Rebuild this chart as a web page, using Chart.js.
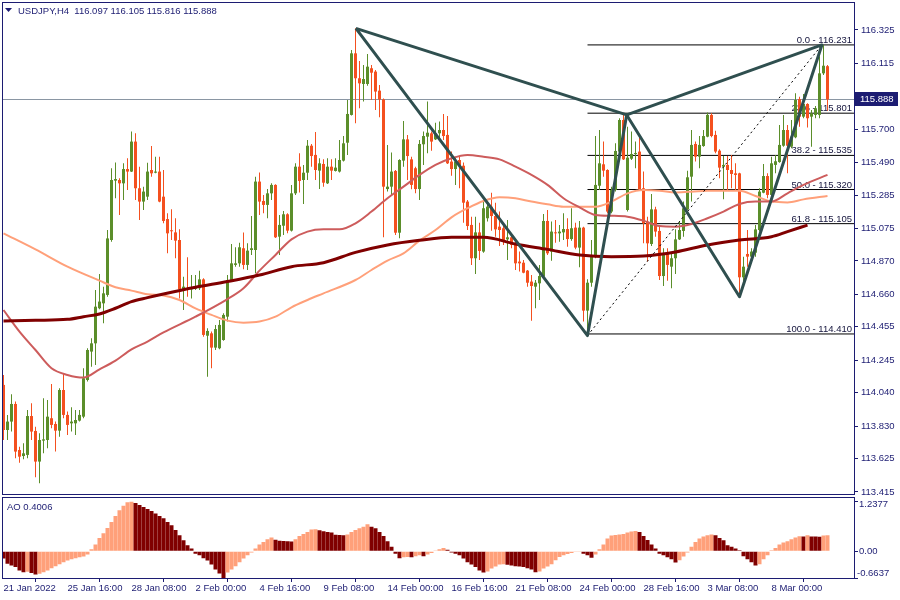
<!DOCTYPE html>
<html>
<head>
<meta charset="utf-8">
<title>USDJPY,H4</title>
<script src="https://cdn.jsdelivr.net/npm/chart.js@4.4.1/dist/chart.umd.min.js"></script>
<style>
    body { margin: 0; background: #ffffff; }
    #wrap { position: relative; width: 900px; height: 600px; }
    #main { position: absolute; left: 0; top: 0; }
    #ao { position: absolute; left: 0; top: 497px; }
</style>
</head>
<body>
<div id="wrap">
    <canvas id="main" width="900" height="497"></canvas>
    <canvas id="ao" width="900" height="103"></canvas>
</div>
<script>
// ---- data ----
const symbolName = "USDJPY,H4";

const openP = [
    114.089, 113.805, 113.858, 113.969, 113.679, 113.641, 113.648, 113.893, 113.799, 113.606,
    113.738, 113.742, 113.879, 113.843, 113.801, 114.057, 113.900, 113.847, 113.847, 113.864,
    113.889, 114.120, 114.299, 114.351, 114.572, 114.603, 114.656, 115.002, 115.376, 115.380,
    115.359, 115.449, 115.433, 115.622, 115.328, 115.244, 115.275, 115.443, 115.426, 115.433,
    115.275, 115.134, 115.061, 115.050, 115.002, 114.687, 114.698, 114.691, 114.695, 114.698,
    114.754, 114.399, 114.414, 114.324, 114.320, 114.372, 114.519, 114.744, 114.845, 114.855,
    114.950, 114.845, 114.939, 114.939, 115.370, 115.248, 115.223, 115.296, 115.349, 115.023,
    115.092, 115.164, 115.061, 115.296, 115.464, 115.380, 115.426, 115.596, 115.538, 115.439,
    115.481, 115.359, 115.464, 115.437, 115.433, 115.502, 115.615, 115.790, 116.178, 116.021,
    115.985, 115.985, 116.084, 116.063, 115.943, 115.888, 115.323, 115.338, 115.437, 115.048,
    115.502, 115.636, 115.510, 115.454, 115.323, 115.605, 115.653, 115.674, 115.636, 115.674,
    115.695, 115.664, 115.496, 115.449, 115.506, 115.470, 115.244, 115.097, 114.887, 115.050,
    114.929, 115.139, 115.212, 115.153, 115.086, 115.076, 115.006, 115.019, 114.981, 114.866,
    114.859, 114.809, 114.740, 114.708, 114.729, 114.771, 115.122, 114.929, 115.050, 115.044,
    115.050, 115.071, 115.008, 115.080, 114.954, 115.080, 114.557, 114.733, 114.897, 115.344,
    115.479, 115.443, 115.181, 115.317, 115.559, 115.758, 115.191, 115.514, 115.544, 115.559,
    115.328, 115.118, 114.977, 115.195, 115.059, 114.775, 114.914, 114.834, 114.887, 115.006,
    115.059, 115.195, 115.401, 115.607, 115.527, 115.594, 115.653, 115.790, 115.664, 115.565,
    115.464, 115.475, 115.443, 115.422, 115.422, 114.767, 114.914, 114.897, 114.922, 115.065,
    115.300, 115.405, 115.286, 115.475, 115.493, 115.596, 115.695, 115.590, 115.649, 115.890,
    115.779, 115.859, 115.779, 115.790, 115.790, 116.052, 116.097
];

const highP = [
    114.152, 113.900, 114.030, 113.984, 113.700, 113.721, 113.931, 113.973, 113.826, 113.784,
    114.005, 113.994, 114.095, 113.858, 114.068, 114.162, 113.921, 113.948, 113.931, 113.931,
    114.194, 114.320, 114.383, 114.687, 114.788, 114.708, 115.065, 115.454, 115.491, 115.391,
    115.485, 115.517, 115.685, 115.674, 115.464, 115.338, 115.489, 115.594, 115.527, 115.527,
    115.443, 115.170, 115.195, 115.139, 115.069, 114.771, 114.893, 114.782, 114.782, 114.809,
    114.761, 114.446, 114.425, 114.467, 114.498, 114.540, 114.782, 114.977, 114.956, 114.985,
    115.050, 114.981, 115.153, 115.401, 115.428, 115.286, 115.323, 115.359, 115.353, 115.160,
    115.185, 115.170, 115.349, 115.485, 115.548, 115.475, 115.632, 115.607, 115.682, 115.517,
    115.510, 115.517, 115.510, 115.517, 115.632, 115.657, 115.884, 116.199, 116.336, 116.130,
    116.105, 116.174, 116.105, 116.073, 115.979, 115.894, 115.601, 115.554, 115.443, 115.510,
    115.752, 115.664, 115.527, 115.464, 115.632, 115.685, 115.874, 115.685, 115.741, 115.748,
    115.796, 115.783, 115.559, 115.527, 115.527, 115.491, 115.254, 115.149, 115.149, 115.111,
    115.254, 115.237, 115.300, 115.237, 115.181, 115.103, 115.128, 115.044, 115.002, 114.929,
    114.876, 114.813, 114.782, 114.750, 114.845, 115.166, 115.191, 115.118, 115.128, 115.097,
    115.170, 115.139, 115.202, 115.111, 115.122, 115.086, 114.754, 115.002, 115.657, 115.695,
    115.622, 115.447, 115.338, 115.611, 115.769, 115.790, 115.716, 115.685, 115.622, 115.664,
    115.433, 115.149, 115.292, 115.212, 115.086, 114.950, 114.950, 114.918, 115.069, 115.118,
    115.244, 115.439, 115.695, 115.622, 115.657, 115.695, 115.806, 115.800, 115.691, 115.573,
    115.531, 115.531, 115.538, 115.485, 115.426, 114.897, 115.065, 114.950, 115.097, 115.328,
    115.481, 115.422, 115.527, 115.538, 115.727, 115.790, 115.727, 115.758, 115.926, 115.905,
    115.922, 115.863, 115.821, 115.846, 116.160, 116.231, 116.105
];

const lowP = [
    113.742, 113.742, 113.795, 113.627, 113.599, 113.620, 113.627, 113.742, 113.507, 113.469,
    113.658, 113.690, 113.816, 113.669, 113.763, 113.879, 113.774, 113.795, 113.774, 113.858,
    113.879, 114.110, 114.204, 114.214, 114.565, 114.477, 114.645, 114.991, 115.265, 115.160,
    115.254, 115.317, 115.430, 115.254, 115.128, 115.191, 115.254, 115.401, 115.422, 115.240,
    115.107, 114.918, 115.002, 114.887, 114.634, 114.561, 114.645, 114.634, 114.687, 114.687,
    114.393, 114.141, 114.194, 114.309, 114.313, 114.368, 114.488, 114.740, 114.834, 114.834,
    114.817, 114.813, 114.908, 114.792, 115.160, 115.170, 115.139, 115.254, 115.015, 114.908,
    115.034, 115.044, 115.055, 115.286, 115.302, 115.229, 115.380, 115.464, 115.380, 115.323,
    115.338, 115.355, 115.380, 115.433, 115.428, 115.496, 115.538, 115.786, 115.737, 115.832,
    115.874, 115.974, 115.884, 115.821, 115.775, 115.019, 115.307, 115.286, 115.034, 115.013,
    115.464, 115.380, 115.321, 115.296, 115.254, 115.475, 115.548, 115.565, 115.632, 115.632,
    115.632, 115.481, 115.407, 115.349, 115.328, 115.111, 115.065, 114.845, 114.788, 114.876,
    114.922, 115.118, 115.061, 115.023, 114.964, 114.971, 114.876, 114.950, 114.813, 114.803,
    114.792, 114.708, 114.494, 114.572, 114.624, 114.765, 114.908, 114.872, 114.985, 114.991,
    115.002, 114.960, 114.998, 114.943, 114.830, 114.488, 114.410, 114.708, 114.887, 115.317,
    115.401, 115.170, 115.170, 115.307, 115.548, 115.506, 115.181, 115.506, 115.454, 115.317,
    114.981, 114.866, 114.964, 115.023, 114.750, 114.712, 114.746, 114.698, 114.788, 115.002,
    115.023, 115.191, 115.244, 115.496, 115.454, 115.590, 115.649, 115.649, 115.548, 115.391,
    115.258, 115.317, 115.328, 115.317, 114.649, 114.708, 114.834, 114.855, 114.897, 115.055,
    115.296, 115.265, 115.275, 115.422, 115.489, 115.590, 115.422, 115.580, 115.643, 115.716,
    115.769, 115.710, 115.590, 115.769, 115.769, 116.042, 115.816
];

const closeP = [
    113.805, 113.858, 113.969, 113.669, 113.637, 113.658, 113.893, 113.795, 113.606, 113.742,
    113.746, 113.889, 113.837, 113.801, 114.057, 113.900, 113.837, 113.858, 113.868, 113.900,
    114.131, 114.309, 114.351, 114.582, 114.614, 114.666, 115.012, 115.380, 115.386, 115.359,
    115.449, 115.433, 115.622, 115.328, 115.244, 115.307, 115.433, 115.422, 115.433, 115.244,
    115.122, 115.044, 115.057, 114.998, 114.691, 114.708, 114.687, 114.704, 114.708, 114.754,
    114.404, 114.429, 114.324, 114.441, 114.467, 114.530, 114.750, 114.855, 114.855, 114.956,
    114.845, 114.935, 114.950, 115.370, 115.244, 115.223, 115.296, 115.349, 115.019, 115.097,
    115.164, 115.061, 115.296, 115.464, 115.374, 115.426, 115.596, 115.531, 115.443, 115.485,
    115.363, 115.464, 115.439, 115.458, 115.506, 115.611, 115.796, 116.178, 116.021, 115.989,
    116.016, 116.094, 116.056, 115.937, 115.888, 115.338, 115.338, 115.433, 115.048, 115.506,
    115.636, 115.531, 115.349, 115.323, 115.607, 115.657, 115.678, 115.622, 115.674, 115.695,
    115.657, 115.485, 115.449, 115.496, 115.470, 115.237, 115.090, 114.887, 115.050, 114.933,
    115.202, 115.212, 115.153, 115.069, 115.065, 114.998, 115.019, 114.971, 114.855, 114.855,
    114.796, 114.733, 114.712, 114.733, 114.775, 115.122, 114.918, 115.055, 115.044, 115.055,
    115.071, 115.008, 115.076, 114.954, 115.080, 114.557, 114.733, 114.901, 115.349, 115.485,
    115.439, 115.181, 115.317, 115.563, 115.758, 115.510, 115.521, 115.544, 115.548, 115.321,
    115.107, 114.981, 115.195, 115.055, 114.775, 114.914, 114.845, 114.887, 115.006, 115.065,
    115.202, 115.397, 115.601, 115.527, 115.601, 115.657, 115.790, 115.657, 115.559, 115.458,
    115.475, 115.443, 115.418, 115.412, 114.767, 114.834, 114.897, 114.929, 115.069, 115.307,
    115.405, 115.286, 115.485, 115.498, 115.601, 115.695, 115.596, 115.653, 115.884, 115.779,
    115.859, 115.769, 115.800, 115.832, 116.052, 116.100, 115.888
];

// moving averages, read every few bars (bar index, price)
const maSalmonIdx = [0, 8, 16, 24, 28, 32, 36, 40, 44, 48, 52, 56, 60, 64, 68, 72, 76, 80, 88, 92, 96, 100, 104, 108, 112, 116, 120, 124, 128, 132, 136, 140, 144, 148, 152, 156, 160, 164, 168, 172, 176, 180, 184, 188, 192, 196, 200, 206];
const maSalmon = [115.044, 114.943, 114.834, 114.746, 114.704, 114.683, 114.660, 114.653, 114.624, 114.571, 114.530, 114.494, 114.481, 114.488, 114.519, 114.578, 114.624, 114.666, 114.750, 114.813, 114.872, 114.918, 114.998, 115.065, 115.145, 115.202, 115.248, 115.271, 115.265, 115.244, 115.227, 115.212, 115.212, 115.212, 115.244, 115.296, 115.317, 115.313, 115.302, 115.306, 115.313, 115.313, 115.313, 115.279, 115.244, 115.239, 115.258, 115.279];

const maRedIdx = [0, 4, 8, 12, 16, 20, 24, 28, 32, 36, 40, 48, 56, 60, 64, 68, 72, 76, 80, 84, 88, 92, 96, 100, 104, 108, 112, 116, 120, 124, 128, 132, 136, 140, 144, 148, 152, 156, 160, 164, 168, 172, 176, 180, 184, 188, 192, 196, 200, 206];
const maRed = [114.561, 114.425, 114.309, 114.194, 114.152, 114.135, 114.187, 114.242, 114.313, 114.362, 114.420, 114.519, 114.630, 114.698, 114.809, 114.908, 115.006, 115.055, 115.069, 115.069, 115.107, 115.181, 115.265, 115.338, 115.412, 115.475, 115.517, 115.538, 115.527, 115.510, 115.464, 115.412, 115.349, 115.265, 115.208, 115.160, 115.155, 115.149, 115.124, 115.090, 115.086, 115.103, 115.139, 115.181, 115.229, 115.244, 115.244, 115.296, 115.349, 115.412];

const maMaroonIdx = [0, 8, 16, 20, 24, 28, 32, 36, 40, 48, 56, 64, 72, 80, 88, 96, 104, 112, 120, 128, 136, 144, 152, 160, 168, 176, 184, 192, 196, 201];
const maMaroon = [114.492, 114.496, 114.502, 114.519, 114.536, 114.572, 114.614, 114.639, 114.662, 114.704, 114.740, 114.781, 114.834, 114.859, 114.924, 114.971, 115.000, 115.019, 115.019, 114.977, 114.943, 114.908, 114.897, 114.901, 114.926, 114.971, 115.002, 115.023, 115.055, 115.096];

// harmonic pattern points X, A, B, C, D
const patternIdx = [88.1, 146, 155.8, 184, 204.6];
const patternPrice = [116.335, 114.400, 115.790, 114.645, 116.231];

// fibonacci retracement
const fibStartIdx = 146;
const fibLevels = [0.0, 23.6, 38.2, 50.0, 61.8, 100.0];
const fibPrices = [116.231, 115.801, 115.535, 115.320, 115.105, 114.410];

// price axis
const priceTicks = [113.415, 113.625, 113.830, 114.040, 114.245, 114.455, 114.660, 114.870, 115.075, 115.285, 115.490, 115.700, 115.905, 116.115, 116.325];
const priceMin = 113.4018;
const priceMax = 116.4951;

// Awesome Oscillator
const aoVals = [
    -0.18, -0.31, -0.35, -0.39, -0.475, -0.52, -0.51, -0.54, -0.575, -0.56,
    -0.52, -0.475, -0.42, -0.37, -0.325, -0.27, -0.23, -0.20, -0.17, -0.15,
    -0.13, -0.08, 0.05, 0.17, 0.33, 0.45, 0.58, 0.73, 0.88, 1.02,
    1.13, 1.22, 1.2377, 1.20, 1.15, 1.10, 1.05, 1.00, 0.94, 0.88,
    0.82, 0.73, 0.65, 0.53, 0.40, 0.275, 0.15, 0.067, -0.06, -0.10,
    -0.17, -0.23, -0.33, -0.45, -0.55, -0.6637, -0.53, -0.45, -0.37, -0.27,
    -0.18, -0.10, -0.03, 0.067, 0.17, 0.23, 0.30, 0.34, 0.29, 0.26,
    0.255, 0.25, 0.245, 0.30, 0.38, 0.43, 0.48, 0.54, 0.55, 0.525,
    0.50, 0.48, 0.47, 0.41, 0.405, 0.40, 0.42, 0.48, 0.53, 0.57,
    0.61, 0.67, 0.61, 0.57, 0.48, 0.38, 0.25, 0.11, -0.06, -0.17,
    -0.15, -0.14, -0.145, -0.12, -0.10, -0.12, -0.08, -0.04, 0.01, 0.05,
    0.08, 0.04, -0.03, -0.06, -0.10, -0.18, -0.27, -0.33, -0.39, -0.475,
    -0.53, -0.50, -0.43, -0.375, -0.33, -0.325, -0.335, -0.35, -0.37, -0.375,
    -0.39, -0.42, -0.45, -0.52, -0.50, -0.43, -0.375, -0.32, -0.225, -0.14,
    -0.10, -0.07, -0.04, -0.017, -0.008, -0.06, -0.10, -0.16, -0.08, 0.05,
    0.17, 0.32, 0.395, 0.405, 0.42, 0.43, 0.47, 0.495, 0.505, 0.48,
    0.38, 0.28, 0.17, 0.067, -0.06, -0.10, -0.15, -0.20, -0.28, -0.225,
    -0.13, -0.03, 0.11, 0.23, 0.32, 0.37, 0.40, 0.42, 0.40, 0.33,
    0.275, 0.15, 0.11, 0.067, 0.025, -0.12, -0.20, -0.27, -0.35, -0.325,
    -0.20, -0.10, 0.025, 0.08, 0.17, 0.22, 0.25, 0.30, 0.34, 0.375,
    0.37, 0.40, 0.37, 0.365, 0.36, 0.395, 0.4006
];
const aoMin = -0.6637;
const aoMax = 1.2377;
const aoTicks = [aoMin, 0, aoMax];
const aoTickLabels = ["-0.6637", "0.00", "1.2377"];

// time axis
const timeTickIdx = [0, 16, 32, 48, 64, 80, 96, 112, 128, 144, 160, 176, 192];
const timeTickLabels = ["21 Jan 2022", "25 Jan 16:00", "28 Jan 08:00", "2 Feb 00:00", "4 Feb 16:00", "9 Feb 08:00", "14 Feb 00:00", "16 Feb 16:00", "21 Feb 08:00", "24 Feb 00:00", "28 Feb 16:00", "3 Mar 08:00", "8 Mar 00:00"];

// bar index range shown (4 px per bar)
const xMin = -0.375;
const xMax = 212.625;

// ---- look ----
const FONT = "'Liberation Sans', Arial, sans-serif";
const FSIZE = 9.5;
const NAVY = "#1c1c72";
const BULL = "#5b8e2a";
const BEAR = "#f4501f";
const AO_UP = "#ffa07a";
const AO_DOWN = "#800000";

Chart.defaults.font.family = FONT;
Chart.defaults.font.size = FSIZE;

const idx = openP.map((v, i) => i);
const candleColor = idx.map(i => closeP[i] >= openP[i] ? BULL : BEAR);

// keep the plot area fixed: no extra room for half labels
function fixedWidth(w) {
    return s => {
        s.width = w;
        s.paddingTop = 0;
        s.paddingBottom = 0;
    };
}

function maLine(xs, ys, color, width, order) {
    return {
        type: "line",
        data: xs.map((x, k) => ({ x: x, y: ys[k] })),
        borderColor: color,
        borderWidth: width,
        pointRadius: 0,
        cubicInterpolationMode: "monotone",
        order: order
    };
}

function patternLine(keys) {
    return {
        type: "line",
        data: keys.map(k => ({ x: patternIdx[k], y: patternPrice[k] })),
        borderColor: "#2f4f4f",
        borderWidth: 3,
        borderJoinStyle: "round",
        pointRadius: 0,
        tension: 0,
        order: 1
    };
}

const fibSets = fibPrices.map(p => ({
    type: "line",
    data: [{ x: fibStartIdx, y: p }, { x: xMax, y: p }],
    borderColor: "#000000",
    borderWidth: 1,
    pointRadius: 0,
    order: 20
}));

const mainDecor = {
    id: "mainDecor",
    beforeDatasetsDraw(chart) {
        const ctx = chart.ctx;
        const a = chart.chartArea;
        const y = chart.scales.y;
        const last = closeP[closeP.length - 1];
        const py = Math.round(y.getPixelForValue(last)) + 0.5;

        ctx.save();
        ctx.strokeStyle = "#8a96a3";
        ctx.lineWidth = 1;
        ctx.beginPath();
        ctx.moveTo(a.left, py);
        ctx.lineTo(a.right, py);
        ctx.stroke();

        ctx.font = FSIZE + "px " + FONT;
        ctx.fillStyle = "#14143c";
        ctx.textAlign = "right";
        ctx.textBaseline = "alphabetic";
        fibLevels.forEach((lv, k) => {
            const ty = y.getPixelForValue(fibPrices[k]) - 2;
            ctx.fillText(lv.toFixed(1) + " - " + fibPrices[k].toFixed(3), a.right - 2, ty);
        });
        ctx.restore();
    },
    afterDraw(chart) {
        const ctx = chart.ctx;
        const y = chart.scales.y;
        const n = closeP.length - 1;

        ctx.save();
        ctx.strokeStyle = NAVY;
        ctx.lineWidth = 1;
        ctx.strokeRect(2.5, 2.5, 852, 492);

        // title
        ctx.fillStyle = NAVY;
        ctx.beginPath();
        ctx.moveTo(5, 8);
        ctx.lineTo(12, 8);
        ctx.lineTo(8.5, 12);
        ctx.closePath();
        ctx.fill();
        ctx.font = FSIZE + "px " + FONT;
        ctx.textAlign = "left";
        ctx.textBaseline = "middle";
        const ohlc = [openP[n], highP[n], lowP[n], closeP[n]].map(v => v.toFixed(3)).join(" ");
        ctx.fillText(symbolName + "  " + ohlc, 18, 11);

        // current price box
        const cy = y.getPixelForValue(closeP[n]);
        ctx.fillStyle = NAVY;
        ctx.fillRect(855, Math.round(cy) - 7, 43, 14);
        ctx.fillStyle = "#ffffff";
        ctx.fillText(closeP[n].toFixed(3), 860, Math.round(cy) + 0.5);
        ctx.restore();
    }
};

new Chart(document.getElementById("main"), {
    type: "bar",
    data: {
        datasets: [
            ...fibSets,
            {
                label: "wick",
                data: idx.map(i => ({ x: i, y: [lowP[i], highP[i]] })),
                backgroundColor: candleColor,
                barThickness: 1,
                grouped: false,
                inflateAmount: 0,
                order: 10
            },
            {
                label: "body",
                data: idx.map(i => ({ x: i, y: [openP[i], closeP[i]] })),
                backgroundColor: candleColor,
                barThickness: 3,
                minBarLength: 1,
                grouped: false,
                inflateAmount: 0,
                order: 9
            },
            maLine(maSalmonIdx, maSalmon, "#ffa07a", 2, 7),
            maLine(maRedIdx, maRed, "#cd5c5c", 2, 6),
            maLine(maMaroonIdx, maMaroon, "#800000", 3, 5),
            {
                type: "line",
                data: [1, 4].map(k => ({ x: patternIdx[k], y: patternPrice[k] })),
                borderColor: "#000000",
                borderWidth: 1,
                borderDash: [2, 3],
                pointRadius: 0,
                order: 3
            },
            patternLine([0, 1, 2, 0]),
            patternLine([2, 3, 4, 2])
        ]
    },
    options: {
        responsive: false,
        animation: false,
        events: [],
        layout: { padding: { left: 2, top: 3, bottom: 3, right: 0 } },
        plugins: { legend: { display: false }, tooltip: { enabled: false } },
        scales: {
            x: {
                type: "linear",
                min: xMin,
                max: xMax,
                offset: false,
                display: false
            },
            y: {
                position: "right",
                min: priceMin,
                max: priceMax,
                afterFit: fixedWidth(46),
                afterBuildTicks: s => { s.ticks = priceTicks.map(v => ({ value: v })); },
                ticks: {
                    color: NAVY,
                    padding: 3,
                    font: { family: FONT, size: FSIZE },
                    callback: v => Number(v).toFixed(3)
                },
                grid: { drawOnChartArea: false, drawTicks: true, tickLength: 4, color: NAVY },
                border: { display: true, color: NAVY }
            }
        }
    },
    plugins: [mainDecor]
});

const aoDecor = {
    id: "aoDecor",
    afterDraw(chart) {
        const ctx = chart.ctx;
        const y = chart.scales.y;

        ctx.save();
        ctx.strokeStyle = NAVY;
        ctx.lineWidth = 1;
        ctx.strokeRect(2.5, 0.5, 852, 81);

        ctx.font = FSIZE + "px " + FONT;
        ctx.fillStyle = NAVY;
        ctx.textAlign = "left";
        ctx.textBaseline = "middle";
        ctx.fillText("AO " + aoVals[aoVals.length - 1].toFixed(4), 7, 10);
        ctx.fillText(aoTickLabels[2], 859, y.getPixelForValue(aoTicks[2]) + 3);
        ctx.fillText(aoTickLabels[1], 859, y.getPixelForValue(aoTicks[1]) + 0.5);
        ctx.fillText(aoTickLabels[0], 857, y.getPixelForValue(aoTicks[0]) - 5);
        ctx.restore();
    }
};

new Chart(document.getElementById("ao"), {
    type: "bar",
    data: {
        datasets: [{
            label: "AO",
            data: aoVals.map((v, i) => ({ x: i, y: v })),
            backgroundColor: aoVals.map((v, i) => (i > 0 && v > aoVals[i - 1]) ? AO_UP : AO_DOWN),
            barThickness: 4,
            grouped: false,
            inflateAmount: 0
        }]
    },
    options: {
        responsive: false,
        animation: false,
        events: [],
        layout: { padding: { left: 2, top: 4.5, bottom: 0, right: 0 } },
        plugins: { legend: { display: false }, tooltip: { enabled: false } },
        scales: {
            x: {
                type: "linear",
                position: "bottom",
                min: xMin,
                max: xMax,
                offset: false,
                afterFit: s => {
                    s.height = 22;
                    s.paddingLeft = 0;
                    s.paddingRight = 0;
                },
                afterBuildTicks: s => { s.ticks = timeTickIdx.map(v => ({ value: v })); },
                ticks: {
                    autoSkip: false,
                    maxRotation: 0,
                    align: "start",
                    padding: 1,
                    color: NAVY,
                    font: { family: FONT, size: FSIZE },
                    callback: (v, k) => timeTickLabels[k]
                },
                grid: { drawOnChartArea: false, drawTicks: true, tickLength: 4, color: NAVY },
                border: { display: false }
            },
            y: {
                position: "right",
                min: aoMin,
                max: aoMax,
                afterFit: fixedWidth(46),
                afterBuildTicks: s => { s.ticks = aoTicks.map(v => ({ value: v })); },
                ticks: { display: false },
                grid: { drawOnChartArea: false, drawTicks: true, tickLength: 4, color: NAVY },
                border: { display: true, color: NAVY }
            }
        }
    },
    plugins: [aoDecor]
});
</script>
</body>
</html>
